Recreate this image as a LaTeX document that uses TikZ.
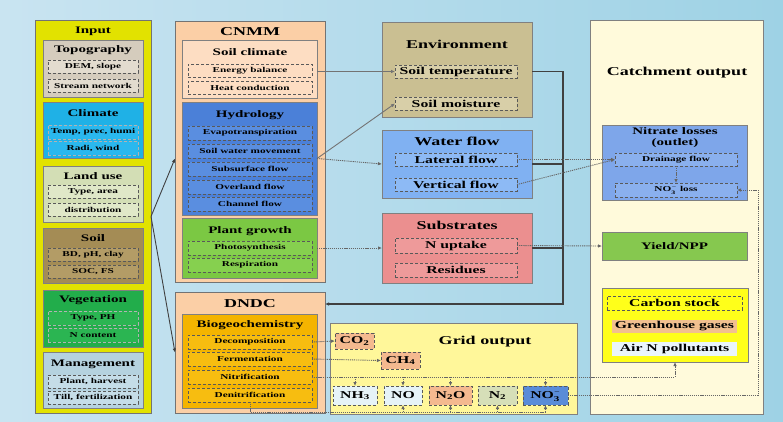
\documentclass[tikz,border=0pt]{standalone}
\usepackage{fontspec}
\setmainfont{Liberation Serif}[FakeStretch=1.5]
\usetikzlibrary{arrows.meta,calc}
\definecolor{bgL}{HTML}{C9E4F1}
\definecolor{bgM}{HTML}{F7FBFD}
\definecolor{bgR}{HTML}{9ED2E5}
\definecolor{inY}{HTML}{E2E200}
\definecolor{topoC}{HTML}{D5CCBD}
\definecolor{topoS}{HTML}{E3DCCF}
\definecolor{climC}{HTML}{1FB1E6}
\definecolor{climS}{HTML}{2AB8EE}
\definecolor{landC}{HTML}{D3DEB5}
\definecolor{landS}{HTML}{E0E8C8}
\definecolor{soilC}{HTML}{A48C55}
\definecolor{soilS}{HTML}{B39C66}
\definecolor{vegC}{HTML}{22AD4B}
\definecolor{vegS}{HTML}{2BB552}
\definecolor{mgmtC}{HTML}{B5D2DF}
\definecolor{mgmtS}{HTML}{C5DDE8}
\definecolor{peach}{HTML}{FBCFA6}
\definecolor{peachL}{HTML}{FDDDC2}
\definecolor{hydC}{HTML}{4B80D8}
\definecolor{hydS}{HTML}{5A8EE0}
\definecolor{plantC}{HTML}{7BC843}
\definecolor{plantS}{HTML}{86D04F}
\definecolor{bioC}{HTML}{F4B400}
\definecolor{bioS}{HTML}{F7BD10}
\definecolor{envC}{HTML}{CABF92}
\definecolor{envS}{HTML}{D8CFA8}
\definecolor{watC}{HTML}{80B1F2}
\definecolor{watS}{HTML}{8DBAF5}
\definecolor{subC}{HTML}{EB8F8F}
\definecolor{subS}{HTML}{EE9A9A}
\definecolor{gridC}{HTML}{FFF79A}
\definecolor{gasO}{HTML}{F4B98F}
\definecolor{gasW}{HTML}{E6F3F8}
\definecolor{gasG}{HTML}{D6DFB8}
\definecolor{gasB}{HTML}{5A8CD8}
\definecolor{catC}{HTML}{FFFADB}
\definecolor{nitC}{HTML}{7EA6EA}
\definecolor{nitS}{HTML}{8AB0EE}
\definecolor{yldC}{HTML}{86C84F}
\definecolor{cbC}{HTML}{FFFF1A}
\definecolor{ghC}{HTML}{F2C08F}
\definecolor{airC}{HTML}{EAF5FB}
\newcommand\fsub{\fontsize{7.5}{8}\selectfont\bfseries}
\newcommand\fhead{\fontsize{10}{11}\selectfont\bfseries}
\newcommand\fmid{\fontsize{10.5}{11}\selectfont\bfseries}
\newcommand\fbig{\fontsize{12}{13}\selectfont\bfseries}
\newcommand{\bx}[7]{\node[#2, minimum width={(#5)-(#3)}, minimum height={(#6)-(#4)}] (#1) at ({((#3)+(#5))/2},{((#4)+(#6))/2}) {#7};}
\tikzset{
  outer/.style={draw=black!55, line width=0.9pt, inner sep=0pt, outer sep=0pt},
  inbox/.style={draw=black!50, line width=0.7pt, inner sep=0pt, outer sep=0pt},
  sub/.style={draw=black!65, densely dashed, line width=0.5pt, inner sep=0pt, outer sep=0pt, font=\fsub},
  subm/.style={sub, font=\fmid},
  ttl/.style={inner sep=0pt, font=\fhead},
  tbig/.style={inner sep=0pt, font=\fbig},
  tip/.style={-{Latex[length=4pt,width=3.5pt]}},
  link/.style={draw=black!75, line width=0.9pt, tip},
  dots/.style={draw=black!60, line width=0.9pt, dash pattern=on 1.2pt off 0.9pt},
  fback/.style={draw=black!75, line width=1.6pt}
}
\begin{document}
\begin{tikzpicture}[x=1pt,y=-1pt]
\useasboundingbox (0,0) rectangle (783,421);
\shade[left color=bgL, middle color=bgM, right color=bgR] (0,0) rectangle (783,421);

% ---------------- Input
\bx{input}{outer,fill=inY}{35}{20}{151}{413}{}
\node[ttl] (tin) at (93,31) {Input};
\bx{topo}{inbox,fill=topoC}{43}{40}{143}{97}{}
\node[ttl] (ttopo) at (93,50) {Topography};
\bx{dem}{sub,fill=topoS}{48}{60}{138}{73}{DEM, slope}
\bx{stream}{sub,fill=topoS}{48}{79}{138}{92}{Stream network}
\bx{clim}{inbox,fill=climC}{43}{102}{143}{158}{}
\node[ttl] (tclim) at (93,113) {Climate};
\bx{temp}{sub,draw=black!30,fill=climS}{48}{125}{138}{139}{Temp, prec, humi}
\bx{radi}{sub,draw=black!30,fill=climS}{48}{141}{138}{155}{Radi, wind}
\bx{land}{inbox,fill=landC}{43}{166}{143}{222}{}
\node[ttl] (tland) at (93,176) {Land use};
\bx{type}{sub,fill=landS}{48}{185}{138}{198}{Type, area}
\bx{distr}{sub,fill=landS}{48}{203}{138}{216}{distribution}
\bx{soil}{inbox,fill=soilC}{43}{228}{143}{283}{}
\node[ttl] (tsoil) at (93,238) {Soil};
\bx{bd}{sub,fill=soilS}{48}{248}{138}{261}{BD, pH, clay}
\bx{soc}{sub,fill=soilS}{48}{265}{138}{278}{SOC, FS}
\bx{veg}{inbox,fill=vegC}{43}{290}{143}{347}{}
\node[ttl] (tveg) at (93,300) {Vegetation};
\bx{vtype}{sub,draw=black!30,fill=vegS}{48}{311}{138}{325}{Type, PH}
\bx{ncont}{sub,draw=black!30,fill=vegS}{48}{328}{138}{342}{N content}
\bx{mgmt}{inbox,fill=mgmtC}{43}{352}{143}{408}{}
\node[ttl] (tmgmt) at (93,364) {Management};
\bx{plh}{sub,fill=mgmtS}{48}{375}{138}{388}{Plant, harvest}
\bx{till}{sub,fill=mgmtS}{48}{391}{138}{404}{Till, fertilization}

% ---------------- CNMM
\bx{cnmm}{outer,fill=peach}{175}{21}{325}{282}{}
\node[tbig] (tcnmm) at (250,32) {CNMM};
\bx{soilclim}{inbox,fill=peachL}{182}{40}{317}{98}{}
\node[ttl] (tsc) at (250,52) {Soil climate};
\bx{energy}{sub,fill=peachL}{188}{64}{312}{77}{Energy balance}
\bx{heat}{sub,fill=peachL}{188}{81}{312}{94}{Heat conduction}
\bx{hydro}{inbox,fill=hydC}{182}{102}{317}{215}{}
\node[ttl] (thyd) at (250,115) {Hydrology};
\bx{evap}{sub,fill=hydS}{188}{126}{312}{140}{Evapotranspiration}
\bx{swm}{sub,fill=hydS}{188}{144}{312}{158}{Soil water movement}
\bx{subsf}{sub,fill=hydS}{188}{162}{312}{176}{Subsurface flow}
\bx{overl}{sub,fill=hydS}{188}{180}{312}{194}{Overland flow}
\bx{chan}{sub,fill=hydS}{188}{197}{312}{211}{Channel flow}
\bx{plant}{inbox,fill=plantC}{182}{218}{317}{278}{}
\node[ttl] (tpl) at (250,231) {Plant growth};
\bx{photo}{sub,fill=plantS}{188}{241}{312}{255}{Photosynthesis}
\bx{resp}{sub,fill=plantS}{188}{258}{312}{272}{Respiration}

% ---------------- DNDC
\bx{dndc}{outer,fill=peach}{175}{292}{325}{413}{}
\node[tbig] (tdndc) at (250,304) {DNDC};
\bx{bio}{inbox,fill=bioC}{182}{314}{317}{408}{}
\node[ttl] (tbio) at (250,325) {Biogeochemistry};
\bx{decomp}{sub,fill=bioS}{188}{335}{312}{349}{Decomposition}
\bx{ferm}{sub,fill=bioS}{188}{352}{312}{366}{Fermentation}
\bx{nitri}{sub,fill=bioS}{188}{370}{312}{384}{Nitrification}
\bx{denit}{sub,fill=bioS}{188}{388}{312}{402}{Denitrification}

% ---------------- Environment, water, substrates
\bx{env}{inbox,fill=envC}{382}{22}{532}{117}{}
\node[tbig] (tenv) at (457,44) {Environment};
\bx{soiltemp}{subm,fill=envS}{395}{65}{517}{78}{Soil temperature}
\bx{soilmoist}{subm,fill=envS}{395}{97}{517}{110}{Soil moisture}
\bx{water}{inbox,fill=watC}{382}{130}{532}{198}{}
\node[tbig] (twat) at (457,141) {Water flow};
\bx{lflow}{subm,fill=watS}{395}{153}{517}{166}{Lateral flow}
\bx{vflow}{subm,fill=watS}{395}{178}{517}{191}{Vertical flow}
\bx{subs}{inbox,fill=subC}{382}{213}{532}{283}{}
\node[tbig] (tsub) at (457,225) {Substrates};
\bx{nupt}{subm,fill=subS}{395}{238}{517}{253}{N uptake}
\bx{resid}{subm,fill=subS}{395}{263}{517}{277}{Residues}

% ---------------- Grid output
\bx{grid}{inbox,fill=gridC}{330}{323}{577}{414}{}
\node[tbig] (tgrid) at (485,342) {Grid output};
\bx{co2}{subm,fill=gasO}{335}{333}{374}{349}{CO\textsubscript{2}}
\bx{ch4}{subm,fill=gasO}{381}{352}{420}{369}{CH\textsubscript{4}}
\bx{nh3}{subm,fill=gasW}{333}{386}{377}{405}{NH\textsubscript{3}}
\bx{no}{subm,fill=gasW}{384}{386}{422}{405}{NO}
\bx{n2o}{subm,fill=gasO}{429}{386}{472}{405}{N\textsubscript{2}O}
\bx{n2}{subm,fill=gasG}{478}{386}{517}{405}{N\textsubscript{2}}
\bx{no3}{subm,fill=gasB}{523}{386}{568}{405}{NO$_{\mathbf{3}}^{\mathbf{-}}$}

% ---------------- Catchment output
\bx{catch}{inbox,fill=catC}{590}{20}{763}{414}{}
\node[tbig] (tcatch) at (677,73) {Catchment output};
\bx{nitr}{inbox,fill=nitC}{602}{125}{747}{200}{}
\node[ttl,align=center] (tnitr) at (675,138) {Nitrate losses\\(outlet)};
\bx{drain}{sub,fill=nitS}{615}{153}{737}{166}{Drainage flow}
\bx{no3loss}{sub,fill=nitS}{615}{183}{737}{197}{NO$_{\mathbf{3}}^{\mathbf{-}}$ loss}
\bx{yield}{inbox,fill=yldC,font=\fhead}{602}{232}{747}{260}{Yield/NPP}
\bx{cbox}{inbox,fill=cbC}{602}{288}{748}{362}{}
\bx{cstock}{subm,fill=cbC}{607}{296}{742}{310}{Carbon stock}
\bx{greenh}{subm,draw=none,fill=ghC}{612}{320}{737}{333}{Greenhouse gases}
\bx{airn}{subm,draw=none,fill=airC}{612}{342}{737}{356}{Air N pollutants}

% ---------------- Connectors
\draw[link] (input.east) -- (cnmm.west |- hydro.center);
\draw[link] (input.east) -- (dndc.west);
\draw[link,draw=black!55] (soilclim.east |- soiltemp.west) -- (soiltemp.west);
\draw[link,draw=black!55] (hydro.east) -- (soilmoist.west);
\draw[dots,tip] (hydro.east) -- (water.west);
\draw[dots,tip] (plant.east) -- (subs.west);

\coordinate (fb) at (563,304);
\draw[fback,tip] (env.east |- soiltemp.east) -| (fb) -- (dndc.east |- fb);
\draw[fback] (water.east) -- (water.east -| fb);
\draw[fback] (subs.east) -- (subs.east -| fb);

\draw[dots,tip] (lflow.east) -- (drain.west);
\draw[dots,tip] (vflow.east) -- (drain.west);
\draw[dots,tip] (nupt.east) -- (yield.west);
\draw[dots,tip] (drain.south) -- (no3loss.north);

\draw[dots,tip] (decomp.east) -- (co2.west);
\draw[dots,tip] (ferm.east) -- (ch4.west);
\draw[dots,tip] (nitri.east) -| (cbox.south);
\foreach \b in {nh3,no,n2o,no3} \draw[dots,tip] (\b.north |- nitri.east) -- (\b.north);
\coordinate (gb) at (546,412);
\draw[dots] (denit.south) |- (gb);
\foreach \b in {no,n2o,n2,no3} \draw[dots,tip] (\b.south |- gb) -- (\b.south);
\draw[dots,tip] (no3.east) -| ($(no3loss.east)+(21,0)$) -- (no3loss.east);
\end{tikzpicture}
\end{document}
